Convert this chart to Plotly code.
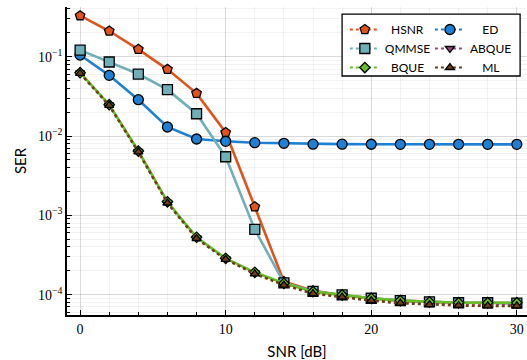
import plotly.graph_objects as go

# SNR grid in dB
snr_db = [0, 2, 4, 6, 8, 10, 12, 14, 16, 18, 20, 22, 24, 26, 28, 30]

# Symbol error rate of each estimator
ser_hsnr = [0.329, 0.211, 0.124, 0.0693, 0.0345, 0.0111, 0.00128, 1.46e-4,
            1.12e-4, 9.9e-5, 9.0e-5, 8.4e-5, 8.1e-5, 7.9e-5, 7.9e-5, 7.8e-5]
ser_ed = [0.105, 0.0582, 0.0287, 0.0130, 0.00917, 0.00858, 0.00824, 0.0081,
          0.0079, 0.0079, 0.00787, 0.00785, 0.00785, 0.00785, 0.00785, 0.00785]
ser_qmmse = [0.121, 0.0858, 0.0605, 0.0384, 0.0191, 0.00548, 6.65e-4, 1.41e-4,
             1.10e-4, 9.9e-5, 9.0e-5, 8.4e-5, 8.1e-5, 7.9e-5, 7.9e-5, 7.8e-5]
ser_abque = [0.0625, 0.0246, 0.0064, 1.46e-3, 5.2e-4, 2.83e-4, 1.88e-4, 1.37e-4,
             1.07e-4, 9.7e-5, 8.8e-5, 8.2e-5, 7.9e-5, 7.7e-5, 7.7e-5, 7.6e-5]
ser_bque = [0.0628, 0.0248, 0.00647, 1.48e-3, 5.29e-4, 2.87e-4, 1.91e-4, 1.39e-4,
            1.09e-4, 9.9e-5, 8.97e-5, 8.4e-5, 8.1e-5, 7.9e-5, 7.9e-5, 7.9e-5]
ser_ml = [0.0615, 0.0243, 0.0063, 1.43e-3, 5.1e-4, 2.78e-4, 1.83e-4, 1.32e-4,
          1.03e-4, 9.3e-5, 8.4e-5, 7.8e-5, 7.5e-5, 7.3e-5, 7.2e-5, 7.2e-5]

y_tickvals = [1e-4, 1e-3, 1e-2, 1e-1]
y_ticktext = ["10<sup>−4</sup>", "10<sup>−3</sup>", "10<sup>−2</sup>", "10<sup>−1</sup>"]

# name, values, colour, marker symbol, marker size, line dash, legend, draw width
series = [
    ("HSNR", ser_hsnr, "#E2531C", "pentagon", 10, "solid", "legend", 2.6),
    ("ED", ser_ed, "#1E80D2", "circle", 10, "solid", "legend2", 2.6),
    ("QMMSE", ser_qmmse, "#6FAFBA", "square", 10, "solid", "legend", 2.6),
    ("ABQUE", ser_abque, "#9A4A80", "triangle-down", 8, "dot", "legend2", 2.4),
    ("BQUE", ser_bque, "#68BE28", "diamond", 8, "solid", "legend", 2.6),
    ("ML", ser_ml, "#6E3F14", "triangle-up", 8, "dot", "legend2", 2.6),
]

fig = go.Figure()

for name, vals, color, sym, size, dash, leg, width in series:
    fig.add_trace(go.Scatter(
        x=snr_db, y=vals, mode="lines+markers", showlegend=False,
        line=dict(color=color, width=width, dash=dash),
        marker=dict(symbol=sym, size=size, color=color,
                    line=dict(color="black", width=1.3)),
    ))

# Legend entries: two columns, dotted samples, labels centred in each column
legend_order = ["HSNR", "QMMSE", "BQUE", "ED", "ABQUE", "ML"]
label_pad = {"HSNR": 2, "QMMSE": 0, "BQUE": 2, "ED": 4, "ABQUE": 0, "ML": 4}
lookup = {s[0]: s for s in series}
for name in legend_order:
    _, vals, color, sym, size, dash, leg, width = lookup[name]
    fig.add_trace(go.Scatter(
        x=[None], y=[None], mode="lines+markers",
        name="\u00a0" * label_pad[name] + name, legend=leg,
        line=dict(color=color, width=2.2, dash="dot"),
        marker=dict(symbol=sym, size=size, color=color,
                    line=dict(color="black", width=1.3)),
    ))

grid_major = "rgba(0,0,0,0.10)"
grid_minor = "rgba(0,0,0,0.05)"
tick_font = dict(family="Liberation Serif", size=14, color="black")
label_font = dict(family="Lato", size=15, color="black")
legend_font = dict(family="Lato", size=12, color="black")

fig.update_layout(
    width=527, height=360,
    margin=dict(l=67, r=0, t=7, b=45),
    paper_bgcolor="white", plot_bgcolor="white",
    xaxis=dict(
        range=[-0.9, 30.7], tickvals=[0, 10, 20, 30],
        ticks="inside", ticklen=5, tickwidth=1, tickcolor="black",
        showline=True, linecolor="black", linewidth=1.5,
        showgrid=True, gridcolor=grid_major, gridwidth=1,
        zeroline=False, tickfont=tick_font,
        minor=dict(dtick=2, ticks="inside", ticklen=3, tickcolor="black",
                   showgrid=True, gridcolor=grid_minor),
        title=dict(text="SNR [dB]", font=label_font, standoff=12),
    ),
    yaxis=dict(
        type="log", range=[-4.257, -0.373],
        tickvals=y_tickvals, ticktext=y_ticktext,
        ticks="inside", ticklen=5, tickwidth=1, tickcolor="black",
        showline=True, linecolor="black", linewidth=1.5,
        showgrid=True, gridcolor=grid_major, gridwidth=1,
        zeroline=False, tickfont=tick_font,
        minor=dict(dtick="D1", ticks="inside", ticklen=3, tickcolor="black",
                   showgrid=True, gridcolor=grid_minor),
        title=dict(text="SER", font=label_font, standoff=8),
    ),
    legend=dict(
        x=0.604, y=0.974, xanchor="left", yanchor="top",
        bgcolor="rgba(0,0,0,0)", borderwidth=0, itemwidth=30,
        tracegroupgap=0, font=legend_font,
    ),
    legend2=dict(
        x=0.789, y=0.974, xanchor="left", yanchor="top",
        bgcolor="rgba(0,0,0,0)", borderwidth=0, itemwidth=30,
        tracegroupgap=0, font=legend_font,
    ),
    shapes=[dict(
        type="rect", xref="paper", yref="paper",
        x0=0.598, x1=0.985, y0=0.776, y1=0.977,
        line=dict(color="black", width=1.3), fillcolor="white", layer="above",
    )],
)

fig.write_html("out.html")
